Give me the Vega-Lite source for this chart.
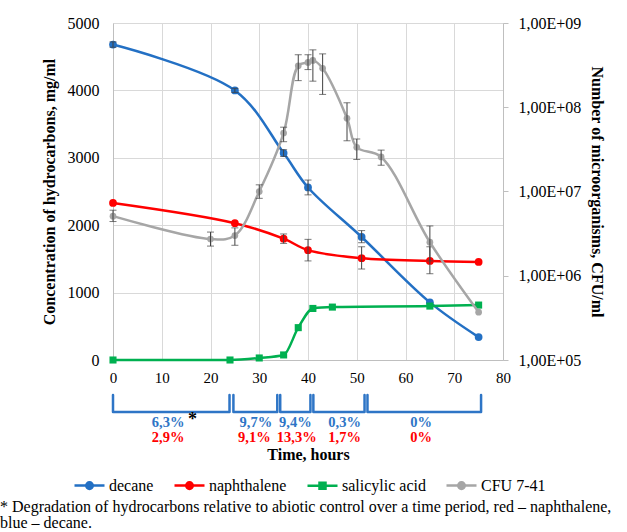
{
  "$schema": "https://vega.github.io/schema/vega-lite/v6.json",
  "width": 390,
  "height": 337,
  "autosize": {"type": "none"},
  "padding": {"left": 113, "top": 23, "right": 124, "bottom": 172},
  "background": "white",
  "config": {
    "font": "Liberation Serif",
    "view": {"stroke": null},
    "style": {
      "guide-label": {"font": "Liberation Serif", "fill": "#000000"},
      "guide-title": {"font": "Liberation Serif", "fill": "#000000"},
      "group-title": {"font": "Liberation Serif"}
    },
    "axis": {
      "labelFont": "Liberation Serif",
      "labelColor": "#000000",
      "titleFont": "Liberation Serif",
      "titleFontWeight": "bold",
      "titleFontSize": 16,
      "titleColor": "#000000",
      "domainColor": "#bfbfbf",
      "gridColor": "#d9d9d9",
      "ticks": false
    },
    "legend": {"labelFont": "Liberation Serif"}
  },
  "title": {
    "text": ["* Degradation of hydrocarbons relative to abiotic control over a time period, red – naphthalene,", "blue – decane."],
    "orient": "bottom",
    "anchor": "start",
    "frame": "group",
    "dx": -113,
    "offset": 5,
    "font": "Liberation Serif",
    "fontSize": 16,
    "fontWeight": "normal",
    "color": "#000000",
    "lineHeight": 16
  },
  "datasets": {
    "conc": [
      {"series": "decane", "time": 0, "value": 4680, "lo": 4640, "hi": 4720},
      {"series": "decane", "time": 25, "value": 4000, "lo": 3970, "hi": 4030},
      {"series": "decane", "time": 35, "value": 3070, "lo": 3020, "hi": 3120},
      {"series": "decane", "time": 40, "value": 2560, "lo": 2450, "hi": 2670},
      {"series": "decane", "time": 51, "value": 1825, "lo": 1740, "hi": 1920},
      {"series": "decane", "time": 65, "value": 855},
      {"series": "decane", "time": 75, "value": 340},
      {"series": "naphthalene", "time": 0, "value": 2330},
      {"series": "naphthalene", "time": 25, "value": 2030},
      {"series": "naphthalene", "time": 35, "value": 1800, "lo": 1730, "hi": 1870},
      {"series": "naphthalene", "time": 40, "value": 1630, "lo": 1470, "hi": 1790},
      {"series": "naphthalene", "time": 51, "value": 1510, "lo": 1350, "hi": 1680},
      {"series": "naphthalene", "time": 65, "value": 1470, "lo": 1280, "hi": 1680},
      {"series": "naphthalene", "time": 75, "value": 1455},
      {"series": "salicylic acid", "time": 0, "value": 0},
      {"series": "salicylic acid", "time": 24, "value": 0},
      {"series": "salicylic acid", "time": 30, "value": 30},
      {"series": "salicylic acid", "time": 35, "value": 75},
      {"series": "salicylic acid", "time": 38, "value": 480},
      {"series": "salicylic acid", "time": 41, "value": 765},
      {"series": "salicylic acid", "time": 45, "value": 785},
      {"series": "salicylic acid", "time": 65, "value": 800},
      {"series": "salicylic acid", "time": 75, "value": 815}
    ],
    "cfu": [
      {"series": "CFU 7-41", "time": 0, "cfu": 5100000, "lo": 4400000, "hi": 6000000},
      {"series": "CFU 7-41", "time": 20, "cfu": 2730000, "lo": 2250000, "hi": 3300000},
      {"series": "CFU 7-41", "time": 25, "cfu": 3000000, "lo": 2300000, "hi": 3700000},
      {"series": "CFU 7-41", "time": 30, "cfu": 10000000, "lo": 8300000, "hi": 12000000},
      {"series": "CFU 7-41", "time": 35, "cfu": 49500000, "lo": 39000000, "hi": 58000000},
      {"series": "CFU 7-41", "time": 38, "cfu": 310000000, "lo": 207000000, "hi": 420000000},
      {"series": "CFU 7-41", "time": 40, "cfu": 340000000, "lo": 280000000, "hi": 420000000},
      {"series": "CFU 7-41", "time": 41, "cfu": 360000000, "lo": 204000000, "hi": 480000000},
      {"series": "CFU 7-41", "time": 43, "cfu": 290000000, "lo": 142000000, "hi": 430000000},
      {"series": "CFU 7-41", "time": 48, "cfu": 74000000, "lo": 40000000, "hi": 113000000},
      {"series": "CFU 7-41", "time": 50, "cfu": 33500000, "lo": 24000000, "hi": 42000000},
      {"series": "CFU 7-41", "time": 55, "cfu": 25700000, "lo": 20500000, "hi": 31000000},
      {"series": "CFU 7-41", "time": 65, "cfu": 2500000, "lo": 1500000, "hi": 3900000},
      {"series": "CFU 7-41", "time": 75, "cfu": 370000}
    ],
    "brackets": [
      {"seg": 1, "k": 1, "time": 0, "value": -519},
      {"seg": 1, "k": 2, "time": 0, "value": -772},
      {"seg": 1, "k": 3, "time": 23.9, "value": -772},
      {"seg": 1, "k": 4, "time": 23.9, "value": -519},
      {"seg": 2, "k": 1, "time": 24.7, "value": -519},
      {"seg": 2, "k": 2, "time": 24.7, "value": -772},
      {"seg": 2, "k": 3, "time": 33.7, "value": -772},
      {"seg": 2, "k": 4, "time": 33.7, "value": -519},
      {"seg": 3, "k": 1, "time": 34.3, "value": -519},
      {"seg": 3, "k": 2, "time": 34.3, "value": -772},
      {"seg": 3, "k": 3, "time": 40.5, "value": -772},
      {"seg": 3, "k": 4, "time": 40.5, "value": -519},
      {"seg": 4, "k": 1, "time": 41.1, "value": -519},
      {"seg": 4, "k": 2, "time": 41.1, "value": -772},
      {"seg": 4, "k": 3, "time": 51.6, "value": -772},
      {"seg": 4, "k": 4, "time": 51.6, "value": -519},
      {"seg": 5, "k": 1, "time": 52.2, "value": -519},
      {"seg": 5, "k": 2, "time": 52.2, "value": -772},
      {"seg": 5, "k": 3, "time": 75.5, "value": -772},
      {"seg": 5, "k": 4, "time": 75.5, "value": -519}
    ],
    "notes": [
      {"kind": "decane", "time": 11.3, "value": -935, "label": "6,3%"},
      {"kind": "decane", "time": 29.3, "value": -935, "label": "9,7%"},
      {"kind": "decane", "time": 37.4, "value": -935, "label": "9,4%"},
      {"kind": "decane", "time": 47.5, "value": -935, "label": "0,3%"},
      {"kind": "decane", "time": 63.2, "value": -935, "label": "0%"},
      {"kind": "naphthalene", "time": 11.3, "value": -1160, "label": "2,9%"},
      {"kind": "naphthalene", "time": 29.0, "value": -1160, "label": "9,1%"},
      {"kind": "naphthalene", "time": 37.7, "value": -1160, "label": "13,3%"},
      {"kind": "naphthalene", "time": 47.5, "value": -1160, "label": "1,7%"},
      {"kind": "naphthalene", "time": 63.2, "value": -1160, "label": "0%"},
      {"kind": "star", "time": 16.3, "value": -890, "label": "*"}
    ]
  },
  "layer": [
    {
      "layer": [
        {
          "data": {"name": "conc"},
          "transform": [{"filter": "datum.series !== 'salicylic acid'"}],
          "mark": {"type": "line", "interpolate": "catmull-rom", "strokeWidth": 2.5},
          "encoding": {
            "x": {"field": "time", "type": "quantitative", "title": "Time, hours",
              "scale": {"domain": [0, 80], "nice": false},
              "axis": {"values": [0, 10, 20, 30, 40, 50, 60, 70, 80], "grid": true, "labelFont": "Liberation Serif", "labelFontSize": 15, "labelPadding": 10, "titlePadding": 61, "labelFlush": false, "format": "d"}},
            "y": {"field": "value", "type": "quantitative", "title": "Concentration  of hydrocarbons,  mg/ml",
              "scale": {"domain": [0, 5000], "nice": false, "zero": false},
              "axis": {"values": [0, 500, 1000, 1500, 2000, 2500, 3000, 3500, 4000, 4500, 5000], "grid": true, "labelFont": "Liberation Serif", "labelFontSize": 16, "labelPadding": 14, "titlePadding": 10, "format": "d"}},
            "color": {"field": "series", "type": "nominal",
              "scale": {"domain": ["decane", "naphthalene", "salicylic acid", "CFU 7-41"], "range": ["#2370C4", "#FF0000", "#00B050", "#A6A6A6"]},
              "legend": {
                "orient": "none", "legendX": -40, "legendY": 446, "direction": "horizontal", "title": null,
                "symbolType": "M-1,0H1", "symbolSize": 900, "symbolStrokeWidth": 2.5,
                "labelFont": "Liberation Serif", "labelFontSize": 16, "labelColor": "#000000", "labelOffset": 3, "columnPadding": 15,
                "encode": {"symbols": {"update": {
                  "shape": {"signal": "datum.value === 'salicylic acid' ? 'M-1,0H1M-0.2,-0.2H0.2V0.2H-0.2Z' : 'M-1,0H1M-0.22,0A0.22,0.22 0 1,0 0.22,0A0.22,0.22 0 1,0 -0.22,0Z'"},
                  "fill": {"scale": "color", "field": "value"},
                  "stroke": {"scale": "color", "field": "value"},
                  "strokeWidth": {"value": 2.5}
                }}}
              }},
            "detail": {"field": "series"}
          }
        },
        {
          "data": {"name": "conc"},
          "transform": [{"filter": "datum.series === 'salicylic acid'"}],
          "mark": {"type": "line", "interpolate": "monotone", "strokeWidth": 2.5},
          "encoding": {
            "x": {"field": "time", "type": "quantitative", "title": "Time, hours"},
            "y": {"field": "value", "type": "quantitative", "title": "Concentration  of hydrocarbons,  mg/ml"},
            "color": {"field": "series", "type": "nominal"}
          }
        },
        {
          "data": {"name": "conc"},
          "transform": [{"filter": "datum.series !== 'salicylic acid'"}],
          "mark": {"type": "point", "shape": "circle", "filled": true, "size": 60, "opacity": 1},
          "encoding": {
            "x": {"field": "time", "type": "quantitative", "title": "Time, hours"},
            "y": {"field": "value", "type": "quantitative", "title": "Concentration  of hydrocarbons,  mg/ml"},
            "color": {"field": "series", "type": "nominal"}
          }
        },
        {
          "data": {"name": "conc"},
          "transform": [{"filter": "datum.series === 'salicylic acid'"}],
          "mark": {"type": "point", "shape": "square", "filled": true, "size": 50, "opacity": 1},
          "encoding": {
            "x": {"field": "time", "type": "quantitative", "title": "Time, hours"},
            "y": {"field": "value", "type": "quantitative", "title": "Concentration  of hydrocarbons,  mg/ml"},
            "color": {"field": "series", "type": "nominal"}
          }
        },
        {
          "data": {"name": "conc"},
          "transform": [{"filter": "isValid(datum.lo)"}],
          "mark": {"type": "errorbar", "ticks": {"size": 7, "color": "#404040", "strokeWidth": 1}, "rule": {"color": "#404040", "strokeWidth": 1}},
          "encoding": {
            "x": {"field": "time", "type": "quantitative", "title": "Time, hours"},
            "y": {"field": "lo", "type": "quantitative", "title": "Concentration  of hydrocarbons,  mg/ml"},
            "y2": {"field": "hi"}
          }
        },
        {
          "data": {"name": "brackets"},
          "mark": {"type": "line", "color": "#2E75C6", "strokeWidth": 2.5, "strokeJoin": "round", "strokeCap": "round"},
          "encoding": {
            "x": {"field": "time", "type": "quantitative", "title": "Time, hours"},
            "y": {"field": "value", "type": "quantitative", "title": "Concentration  of hydrocarbons,  mg/ml"},
            "detail": {"field": "seg"},
            "order": {"field": "k"}
          }
        },
        {
          "data": {"name": "notes"},
          "transform": [{"filter": "datum.kind === 'decane'"}],
          "mark": {"type": "text", "color": "#2E75C6", "font": "Liberation Serif", "fontWeight": "bold", "fontSize": 14.5, "baseline": "middle", "align": "center"},
          "encoding": {
            "x": {"field": "time", "type": "quantitative", "title": "Time, hours"},
            "y": {"field": "value", "type": "quantitative", "title": "Concentration  of hydrocarbons,  mg/ml"},
            "text": {"field": "label"}
          }
        },
        {
          "data": {"name": "notes"},
          "transform": [{"filter": "datum.kind === 'naphthalene'"}],
          "mark": {"type": "text", "color": "#FF0000", "font": "Liberation Serif", "fontWeight": "bold", "fontSize": 14.5, "baseline": "middle", "align": "center"},
          "encoding": {
            "x": {"field": "time", "type": "quantitative", "title": "Time, hours"},
            "y": {"field": "value", "type": "quantitative", "title": "Concentration  of hydrocarbons,  mg/ml"},
            "text": {"field": "label"}
          }
        },
        {
          "data": {"name": "notes"},
          "transform": [{"filter": "datum.kind === 'star'"}],
          "mark": {"type": "text", "color": "#000000", "font": "Liberation Serif", "fontWeight": "bold", "fontSize": 18, "baseline": "middle", "align": "center"},
          "encoding": {
            "x": {"field": "time", "type": "quantitative", "title": "Time, hours"},
            "y": {"field": "value", "type": "quantitative", "title": "Concentration  of hydrocarbons,  mg/ml"},
            "text": {"field": "label"}
          }
        }
      ]
    },
    {
      "layer": [
        {
          "data": {"name": "cfu"},
          "mark": {"type": "line", "interpolate": "catmull-rom", "strokeWidth": 2.5},
          "encoding": {
            "x": {"field": "time", "type": "quantitative", "title": "Time, hours"},
            "y": {"field": "cfu", "type": "quantitative", "title": "Number of microorganisms,  CFU/ml",
              "scale": {"type": "log", "domain": [100000, 1000000000], "nice": false},
              "axis": {"orient": "right", "values": [100000, 1000000, 10000000, 100000000, 1000000000], "grid": false, "ticks": true, "tickSize": 5, "tickColor": "#bfbfbf", "labelFont": "Liberation Serif", "labelFontSize": 16, "labelPadding": 10, "titlePadding": 8,
                "labelExpr": "'1,00E+0' + format(log(datum.value) / LN10, '.0f')"}},
            "color": {"field": "series", "type": "nominal"}
          }
        },
        {
          "data": {"name": "cfu"},
          "mark": {"type": "point", "shape": "circle", "filled": true, "size": 45, "opacity": 1},
          "encoding": {
            "x": {"field": "time", "type": "quantitative", "title": "Time, hours"},
            "y": {"field": "cfu", "type": "quantitative", "title": "Number of microorganisms,  CFU/ml"},
            "color": {"field": "series", "type": "nominal"}
          }
        },
        {
          "data": {"name": "cfu"},
          "transform": [{"filter": "isValid(datum.lo)"}],
          "mark": {"type": "errorbar", "ticks": {"size": 7, "color": "#404040", "strokeWidth": 1}, "rule": {"color": "#404040", "strokeWidth": 1}},
          "encoding": {
            "x": {"field": "time", "type": "quantitative", "title": "Time, hours"},
            "y": {"field": "lo", "type": "quantitative", "title": "Number of microorganisms,  CFU/ml"},
            "y2": {"field": "hi"}
          }
        }
      ]
    }
  ],
  "resolve": {"scale": {"y": "independent"}}
}
